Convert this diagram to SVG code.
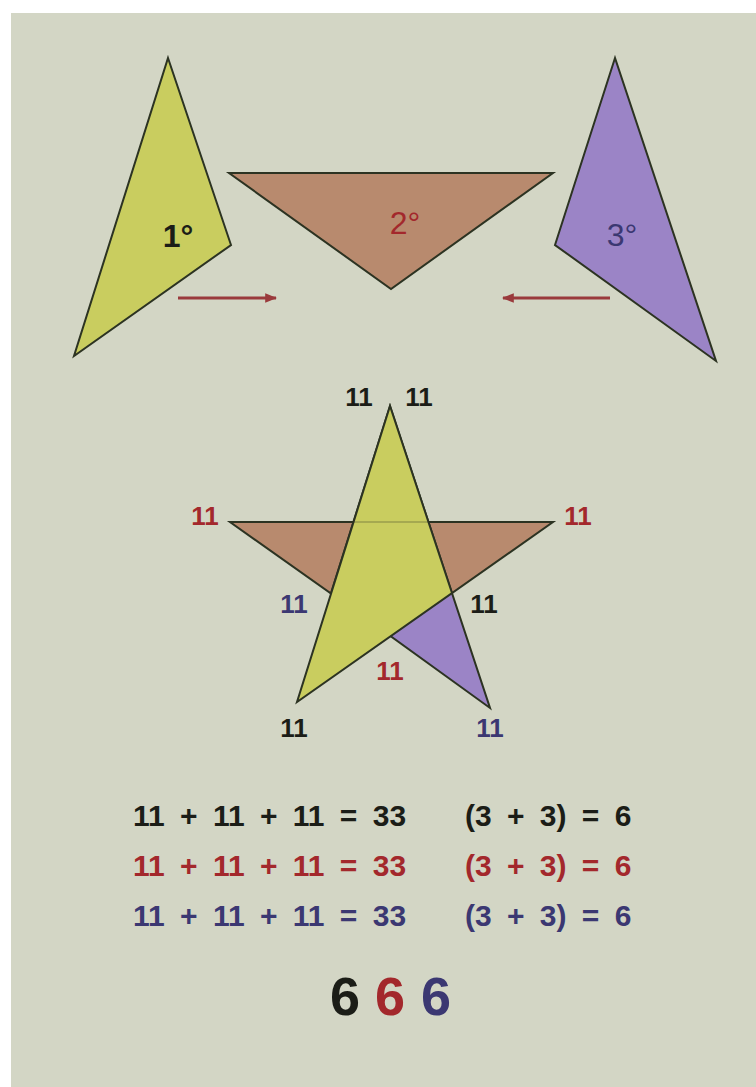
<svg xmlns="http://www.w3.org/2000/svg" width="756" height="1087" viewBox="0 0 756 1087">
<style>
  .tri { stroke: #2c3322; stroke-width: 2; stroke-linejoin: miter; }
  .y { fill: #c9cd5f; }
  .b { fill: #b88a6e; }
  .p { fill: #9b84c6; }
  .lbl { font-family: "Liberation Sans", Arial, sans-serif; text-anchor: middle; }
  .num { font-family: "Liberation Sans", Arial, sans-serif; font-weight: bold; font-size: 26px; text-anchor: middle; }
  .eq { font-family: "Liberation Sans", Arial, sans-serif; font-weight: bold; font-size: 30px; word-spacing: 7px; }
  .k { fill: #1b1d17; }
  .r { fill: #a3282c; }
  .n { fill: #3b3872; }
  .arrow { stroke: #9a3a3c; stroke-width: 3; fill: none; }
</style>
<defs>
  <marker id="ah" viewBox="0 0 10 10" refX="9" refY="5" markerWidth="4" markerHeight="4" orient="auto-start-reverse">
    <path d="M0,1 L10,5 L0,9 z" fill="#9a3a3c"/>
  </marker>
</defs>
<rect x="0" y="0" width="756" height="1087" fill="#ffffff"/>
<rect x="11" y="13" width="745" height="1074" fill="#d3d6c5"/>

<g id="triangle1">
  <polygon class="tri y" points="168,58 231,245 74,356"/>
  <text class="lbl k" x="178" y="247" font-size="32" font-weight="bold">1°</text>
</g>
<g id="triangle2">
  <polygon class="tri b" points="229,173 553,173 391,289"/>
  <text class="lbl r" x="405" y="234" font-size="32">2°</text>
</g>
<g id="triangle3">
  <polygon class="tri p" points="615,58 555,245 716,361"/>
  <text class="lbl n" x="622" y="246" font-size="32">3°</text>
</g>

<g id="connectors">
  <line class="arrow" x1="178" y1="298" x2="276" y2="298" marker-end="url(#ah)"/>
  <line class="arrow" x1="610" y1="298" x2="503" y2="298" marker-end="url(#ah)"/>
</g>

<g id="star">
  <polygon class="tri b" points="230,522 553,522 391,636"/>
  <polygon class="tri p" points="390,406 331,593 490,708"/>
  <polygon class="tri y" points="390,406 452,593 297,702"/>
  <line x1="352" y1="522" x2="429" y2="522" stroke="#2c3322" stroke-width="1.5" opacity="0.3"/>
</g>

<g id="star-labels">
  <text class="num k" x="359" y="406">11</text>
  <text class="num k" x="419" y="406">11</text>
  <text class="num r" x="205" y="525">11</text>
  <text class="num r" x="578" y="525">11</text>
  <text class="num n" x="294" y="613">11</text>
  <text class="num k" x="484" y="613">11</text>
  <text class="num r" x="390" y="680">11</text>
  <text class="num k" x="294" y="737">11</text>
  <text class="num n" x="490" y="737">11</text>
</g>

<g id="equations">
  <text class="eq k" x="133" y="826">11 + 11 + 11 = 33</text>
  <text class="eq k" x="465" y="826">(3 + 3) = 6</text>
  <text class="eq r" x="133" y="876">11 + 11 + 11 = 33</text>
  <text class="eq r" x="465" y="876">(3 + 3) = 6</text>
  <text class="eq n" x="133" y="926">11 + 11 + 11 = 33</text>
  <text class="eq n" x="465" y="926">(3 + 3) = 6</text>
</g>

<g id="result">
  <text class="lbl k" x="345" y="1015" font-size="54" font-weight="bold">6</text>
  <text class="lbl r" x="390" y="1015" font-size="54" font-weight="bold">6</text>
  <text class="lbl n" x="436" y="1015" font-size="54" font-weight="bold">6</text>
</g>
</svg>
